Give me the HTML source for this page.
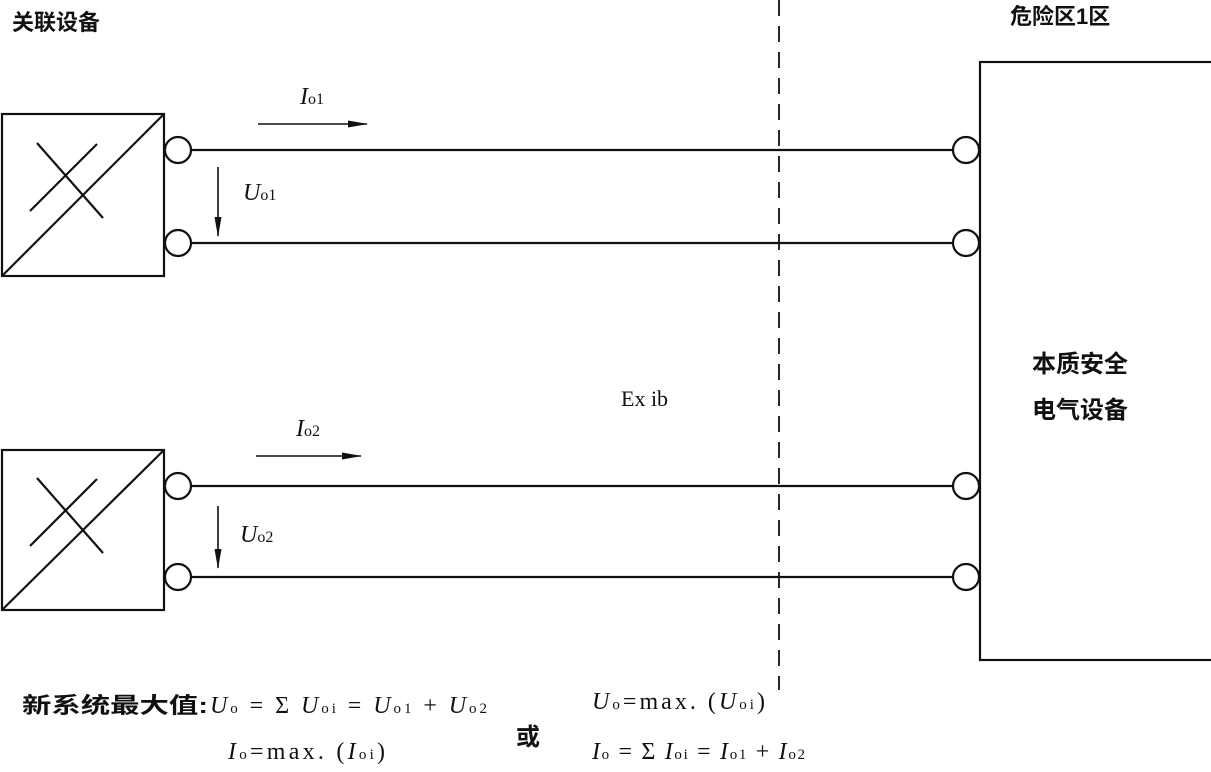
<!DOCTYPE html>
<html><head><meta charset="utf-8"><style>
body{margin:0;background:#fff;}
svg text{font-family:"Liberation Serif","Noto Serif CJK SC",serif;fill:#111;}
.cn{font-family:"Liberation Sans","Noto Sans CJK SC",sans-serif;font-weight:bold;}
</style></head><body>
<svg width="1211" height="767" viewBox="0 0 1211 767" xmlns="http://www.w3.org/2000/svg">
<defs><marker id="a" markerWidth="20" markerHeight="10" refX="19" refY="5" orient="auto" markerUnits="userSpaceOnUse"><path d="M0,1.5 L20,5 L0,8.5 Z" fill="#111"/></marker></defs>
<g stroke="#111" stroke-width="2.2" fill="none">
<rect x="2" y="114" width="162" height="162"/>
<line x1="2" y1="276" x2="164" y2="114"/>
<line x1="37" y1="143" x2="103" y2="218"/>
<line x1="97" y1="144" x2="30" y2="211"/>
<rect x="2" y="450" width="162" height="160"/>
<line x1="2" y1="610" x2="164" y2="450"/>
<line x1="37" y1="478" x2="103" y2="553"/>
<line x1="97" y1="479" x2="30" y2="546"/>
<rect x="980" y="62" width="240" height="598"/>
<line x1="191" y1="150" x2="953" y2="150"/>
<line x1="191" y1="243" x2="953" y2="243"/>
<line x1="191" y1="486" x2="953" y2="486"/>
<line x1="191" y1="577" x2="953" y2="577"/>
<circle cx="178" cy="150" r="13" fill="#fff"/><circle cx="178" cy="243" r="13" fill="#fff"/>
<circle cx="178" cy="486" r="13" fill="#fff"/><circle cx="178" cy="577" r="13" fill="#fff"/>
<circle cx="966" cy="150" r="13" fill="#fff"/><circle cx="966" cy="243" r="13" fill="#fff"/>
<circle cx="966" cy="486" r="13" fill="#fff"/><circle cx="966" cy="577" r="13" fill="#fff"/>
<line x1="779" y1="0" x2="779" y2="690" stroke-dasharray="16,10" stroke-width="1.8"/>
<line x1="258" y1="124" x2="367" y2="124" stroke-width="1.6" marker-end="url(#a)"/>
<line x1="256" y1="456" x2="361" y2="456" stroke-width="1.6" marker-end="url(#a)"/>
<line x1="218" y1="167" x2="218" y2="236" stroke-width="1.6" marker-end="url(#a)"/>
<line x1="218" y1="506" x2="218" y2="568" stroke-width="1.6" marker-end="url(#a)"/>
</g>
<text class="cn" x="12" y="30" font-size="22">关联设备</text>
<text class="cn" x="1010" y="24" font-size="22">危险区1区</text>
<text class="cn" x="1032" y="372" font-size="24">本质安全</text>
<text class="cn" x="1032" y="418" font-size="24">电气设备</text>
<text x="621" y="406" font-size="22" font-family="Liberation Sans">Ex ib</text>
<text x="300" y="104" font-size="24"><tspan font-style="italic">I</tspan><tspan font-size="16">o1</tspan></text>
<text x="243" y="200" font-size="24"><tspan font-style="italic">U</tspan><tspan font-size="16">o1</tspan></text>
<text x="296" y="436" font-size="24"><tspan font-style="italic">I</tspan><tspan font-size="16">o2</tspan></text>
<text x="240" y="542" font-size="24"><tspan font-style="italic">U</tspan><tspan font-size="16">o2</tspan></text>
<text class="cn" x="22" y="713" font-size="22" textLength="186" lengthAdjust="spacingAndGlyphs">新系统最大值:</text>
<text x="210" y="713" font-size="24" textLength="277" lengthAdjust="spacing"><tspan font-style="italic">U</tspan><tspan font-size="15">o</tspan> = Σ <tspan font-style="italic">U</tspan><tspan font-size="15">oi</tspan> = <tspan font-style="italic">U</tspan><tspan font-size="15">o1</tspan> + <tspan font-style="italic">U</tspan><tspan font-size="15">o2</tspan></text>
<text x="228" y="759" font-size="24" textLength="157" lengthAdjust="spacing"><tspan font-style="italic">I</tspan><tspan font-size="15">o</tspan>=max. (<tspan font-style="italic">I</tspan><tspan font-size="15">oi</tspan>)</text>
<text class="cn" x="516" y="745" font-size="24">或</text>
<text x="592" y="709" font-size="24" textLength="173" lengthAdjust="spacing"><tspan font-style="italic">U</tspan><tspan font-size="15">o</tspan>=max. (<tspan font-style="italic">U</tspan><tspan font-size="15">oi</tspan>)</text>
<text x="592" y="759" font-size="24" textLength="213" lengthAdjust="spacing"><tspan font-style="italic">I</tspan><tspan font-size="15">o</tspan> = Σ <tspan font-style="italic">I</tspan><tspan font-size="15">oi</tspan> = <tspan font-style="italic">I</tspan><tspan font-size="15">o1</tspan> + <tspan font-style="italic">I</tspan><tspan font-size="15">o2</tspan></text>
</svg>
</body></html>
